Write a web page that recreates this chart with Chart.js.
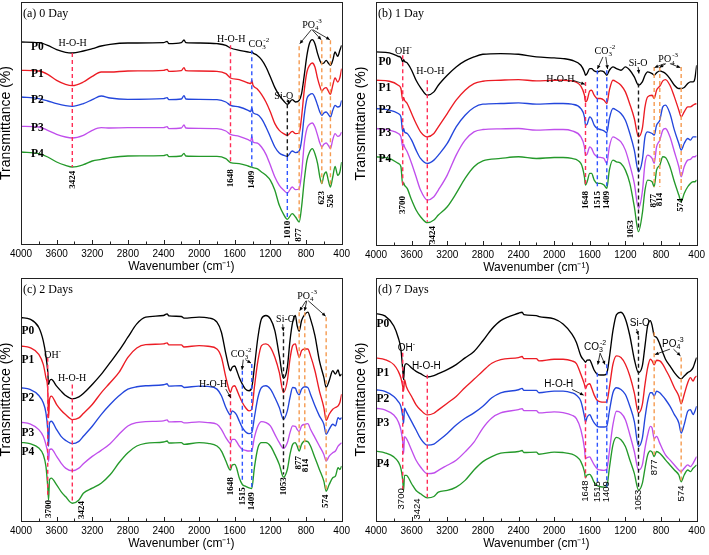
<!DOCTYPE html>
<html>
<head>
<meta charset="utf-8">
<title>FTIR spectra 0-7 days</title>
<script src="https://cdn.jsdelivr.net/npm/chart.js@4.4.1/dist/chart.umd.min.js"></script>
<style>
  body { margin: 0; background: #fff; }
  #wrap { position: relative; width: 709px; height: 555px; overflow: hidden; }
  canvas { position: absolute; }
  #chartA { left: 0; top: 0; }
  #chartB { left: 355px; top: 0; }
  #chartC { left: 0; top: 276px; }
  #chartD { left: 355px; top: 276px; }
</style>
</head>
<body>
<div id="wrap">
  <canvas id="chartA" width="354" height="277"></canvas>
  <canvas id="chartB" width="354" height="277"></canvas>
  <canvas id="chartC" width="354" height="279"></canvas>
  <canvas id="chartD" width="354" height="279"></canvas>
</div>
<script>
// ---- data (transmittance, offset spectra, a.u.) ----
var xTickLabels = [4000, 3600, 3200, 2800, 2400, 2000, 1600, 1200, 800, 400];
var seriesNames = ['P0', 'P1', 'P2', 'P3', 'P4'];
var seriesColors = ['#000000', '#ec1c24', '#2346dc', '#c04fec', '#24992a'];

// (a) 0 Day
var wnA = [4000, 3800, 3700, 3600, 3500, 3424, 3300, 3200, 3100, 3000, 2800, 2400, 2360, 2340, 2200, 2170, 2150, 2000, 1800, 1700,
  1648, 1550, 1450, 1420, 1409, 1395, 1350, 1300, 1250, 1200, 1150, 1100, 1050, 1010, 955, 918, 877, 850, 820, 790,
  760, 730, 700, 670, 645, 623, 600, 574, 550, 526, 500, 474, 444, 420, 400];
var aP0 = [875, 873, 865, 852, 844, 842, 848, 855, 863, 868, 872, 873, 877, 870, 873, 881, 873, 872, 870, 865,
  857, 850, 845, 844, 846, 842, 835, 822, 800, 770, 738, 715, 698, 688, 702, 695, 700, 720, 775, 835,
  872, 882, 870, 840, 820, 810, 812, 820, 812, 805, 820, 845, 832, 850, 865];
var aP1 = [790, 788, 778, 760, 748, 744, 755, 772, 785, 785, 788, 790, 793, 787, 789, 798, 789, 788, 787, 780,
  767, 762, 752, 750, 760, 745, 735, 718, 695, 665, 630, 610, 600, 595, 607, 600, 602, 650, 730, 785,
  805, 812, 800, 765, 742, 728, 735, 738, 728, 718, 745, 767, 755, 768, 795];
var aP2 = [710, 705, 698, 690, 684, 682, 690, 702, 713, 707, 703, 705, 708, 702, 704, 714, 704, 703, 702, 695,
  685, 680, 670, 666, 678, 663, 658, 645, 620, 590, 560, 542, 535, 532, 548, 543, 548, 580, 655, 705,
  717, 720, 708, 685, 665, 655, 662, 665, 658, 650, 670, 685, 680, 682, 700];
var aP3 = [622, 620, 610, 598, 590, 587, 595, 610, 618, 617, 618, 618, 621, 615, 617, 626, 617, 616, 615, 608,
  598, 592, 582, 578, 592, 575, 572, 560, 538, 505, 470, 445, 430, 422, 440, 432, 435, 480, 570, 615,
  628, 632, 620, 595, 572, 560, 568, 572, 565, 555, 582, 600, 592, 595, 605];
var aP4 = [545, 540, 530, 515, 505, 500, 507, 518, 523, 528, 533, 534, 537, 531, 533, 541, 533, 532, 532, 525,
  513, 510, 503, 500, 500, 498, 495, 485, 475, 460, 430, 385, 357, 343, 360, 350, 335, 380, 460, 520,
  545, 555, 540, 510, 470, 450, 475, 485, 460, 440, 470, 502, 475, 485, 515];

// (b) 1 Day
var wnB = [4000, 3850, 3750, 3720, 3700, 3690, 3680, 3650, 3600, 3550, 3500, 3424, 3350, 3300, 3200, 3100, 3000, 2900, 2800, 2600,
  2400, 2200, 2000, 1900, 1800, 1700, 1660, 1648, 1630, 1600, 1580, 1550, 1515, 1480, 1440, 1409, 1380, 1340, 1300, 1250,
  1200, 1150, 1100, 1053, 1010, 980, 950, 900, 877, 850, 814, 780, 750, 700, 650, 600, 574, 540, 500, 470,
  440, 420, 400];
var bP0 = [845, 842, 832, 828, 815, 822, 817, 812, 790, 760, 738, 715, 725, 745, 775, 800, 818, 830, 838, 840,
  838, 830, 827, 825, 820, 805, 785, 775, 780, 795, 795, 788, 785, 788, 785, 775, 790, 800, 795, 790,
  800, 790, 770, 745, 755, 775, 785, 780, 775, 782, 788, 785, 780, 765, 745, 735, 735, 738, 750, 755,
  755, 765, 805];
var bP1 = [760, 757, 745, 735, 700, 708, 700, 690, 660, 630, 605, 590, 600, 620, 660, 700, 730, 750, 757, 760,
  762, 758, 760, 760, 758, 742, 715, 695, 700, 728, 730, 715, 705, 705, 700, 690, 730, 760, 755, 745,
  725, 688, 645, 590, 615, 680, 710, 715, 705, 730, 742, 758, 762, 745, 710, 670, 650, 665, 680, 680,
  685, 688, 690];
var bP2 = [675, 670, 660, 650, 605, 615, 605, 600, 580, 550, 525, 510, 520, 535, 570, 620, 655, 678, 688, 690,
  692, 688, 690, 690, 688, 675, 650, 625, 628, 650, 645, 625, 615, 612, 608, 602, 645, 675, 670, 660,
  640, 600, 550, 485, 520, 590, 605, 600, 595, 625, 640, 680, 685, 660, 610, 570, 550, 570, 585, 580,
  590, 590, 590];
var bP3 = [615, 610, 600, 590, 560, 568, 560, 545, 510, 470, 430, 400, 410, 430, 475, 535, 580, 605, 612, 614,
  615, 610, 612, 612, 608, 590, 560, 535, 538, 560, 555, 538, 530, 528, 525, 510, 560, 590, 585, 575,
  550, 505, 450, 375, 425, 510, 535, 525, 510, 560, 580, 610, 615, 590, 545, 500, 470, 500, 520, 522,
  530, 530, 535];
var bP4 = [530, 525, 510, 500, 445, 452, 445, 435, 400, 370, 350, 332, 340, 355, 380, 420, 465, 500, 518, 525,
  530, 525, 528, 528, 525, 510, 470, 445, 455, 480, 480, 460, 450, 450, 445, 435, 490, 520, 515, 510,
  490, 450, 380, 305, 360, 430, 460, 455, 440, 490, 505, 530, 528, 500, 455, 415, 395, 420, 440, 450,
  455, 455, 460];

// (c) 2 Days and (d) 7 Days share one wavenumber grid
var wnCD = [4000, 3900, 3800, 3750, 3720, 3700, 3690, 3680, 3660, 3600, 3550, 3500, 3424, 3350, 3300, 3200, 3100, 3000, 2900, 2800,
  2700, 2600, 2400, 2360, 2340, 2200, 2170, 2000, 1900, 1800, 1750, 1700, 1660, 1648, 1630, 1600, 1580, 1550, 1515, 1480,
  1440, 1409, 1380, 1340, 1300, 1250, 1200, 1150, 1100, 1053, 1010, 980, 950, 920, 900, 877, 850, 814, 780, 750,
  700, 650, 600, 574, 540, 500, 470, 440, 420, 400];
var cP0 = [870, 865, 840, 800, 755, 710, 670, 680, 685, 665, 650, 637, 627, 633, 643, 670, 700, 735, 771, 811,
  851, 871, 876, 881, 875, 873, 868, 871, 869, 856, 826, 761, 716, 711, 721, 725, 713, 691, 671, 656,
  651, 661, 721, 811, 866, 876, 866, 831, 756, 688, 721, 801, 856, 876, 846, 829, 861, 879, 886, 866,
  816, 741, 691, 661, 681, 711, 701, 713, 696, 701];
var cP1 = [785, 780, 760, 730, 690, 655, 570, 625, 635, 610, 593, 580, 565, 570, 583, 610, 645, 675, 706, 751,
  779, 789, 791, 794, 788, 788, 782, 786, 784, 776, 751, 691, 651, 646, 661, 666, 656, 636, 616, 601,
  591, 596, 661, 741, 786, 791, 781, 751, 706, 646, 681, 746, 786, 791, 771, 751, 771, 776, 776, 756,
  711, 651, 601, 563, 581, 596, 601, 606, 616, 641];
var cP2 = [660, 655, 637, 615, 585, 535, 485, 555, 560, 535, 515, 503, 493, 500, 515, 545, 580, 610, 636, 656,
  663, 666, 669, 672, 665, 666, 661, 665, 664, 656, 636, 601, 581, 579, 591, 586, 579, 561, 541, 529,
  523, 526, 571, 631, 661, 666, 656, 631, 601, 566, 591, 631, 661, 659, 646, 639, 656, 663, 661, 641,
  606, 576, 551, 521, 536, 551, 546, 571, 566, 571];
var cP3 = [557, 552, 535, 515, 490, 465, 440, 475, 477, 455, 435, 420, 412, 420, 433, 455, 473, 493, 521, 546,
  556, 559, 561, 564, 558, 559, 555, 558, 556, 551, 536, 511, 496, 494, 506, 506, 499, 486, 476, 473,
  471, 473, 511, 546, 559, 556, 546, 521, 496, 479, 496, 526, 546, 545, 536, 529, 546, 551, 553, 536,
  511, 486, 461, 441, 456, 466, 471, 486, 491, 496];
var cP4 = [497, 493, 480, 460, 425, 365, 325, 385, 390, 370, 350, 335, 315, 325, 345, 360, 375, 400, 436, 466,
  486, 494, 498, 501, 495, 496, 491, 496, 494, 486, 471, 441, 416, 414, 429, 431, 421, 391, 371, 366,
  361, 359, 421, 481, 496, 496, 486, 461, 431, 393, 416, 461, 491, 496, 486, 471, 491, 501, 499, 486,
  451, 416, 381, 351, 371, 391, 396, 421, 416, 426];
var dP0 = [882, 875, 845, 810, 775, 715, 685, 725, 733, 720, 710, 703, 693, 697, 703, 715, 730, 750, 769, 801,
  836, 861, 883, 886, 879, 876, 873, 866, 851, 821, 796, 756, 741, 737, 743, 744, 733, 713, 701, 699,
  699, 704, 751, 831, 879, 886, 866, 816, 746, 706, 726, 786, 846, 861, 846, 816, 811, 791, 766, 746,
  726, 706, 691, 688, 696, 706, 711, 721, 736, 751];
var dP1 = [750, 745, 730, 710, 690, 665, 650, 685, 665, 635, 610, 595, 580, 585, 595, 615, 635, 662, 686, 711,
  734, 745, 751, 754, 748, 748, 741, 746, 746, 741, 733, 701, 671, 659, 669, 673, 661, 639, 623, 619,
  618, 619, 661, 731, 756, 751, 731, 696, 646, 586, 611, 671, 721, 746, 741, 729, 743, 741, 731, 716,
  691, 661, 636, 613, 641, 676, 691, 681, 691, 696];
var dP2 = [655, 650, 635, 620, 605, 575, 555, 600, 590, 560, 535, 510, 490, 493, 503, 525, 550, 570, 586, 606,
  631, 646, 655, 659, 653, 653, 646, 651, 651, 646, 639, 621, 576, 559, 573, 581, 571, 556, 546, 544,
  544, 546, 591, 646, 661, 656, 641, 606, 561, 486, 511, 571, 621, 646, 646, 636, 651, 646, 636, 626,
  606, 581, 556, 526, 551, 591, 596, 581, 591, 606];
var dP3 = [600, 595, 580, 560, 535, 500, 465, 515, 510, 475, 445, 425, 405, 407, 415, 430, 445, 470, 499, 541,
  571, 586, 596, 599, 593, 593, 586, 589, 587, 579, 569, 536, 481, 450, 453, 455, 446, 431, 419, 416,
  415, 418, 471, 551, 591, 586, 566, 521, 471, 416, 431, 481, 521, 546, 541, 509, 516, 496, 476, 461,
  446, 431, 416, 411, 421, 431, 426, 436, 446, 456];
var dP4 = [472, 467, 455, 440, 420, 385, 355, 400, 400, 375, 355, 345, 333, 337, 350, 355, 365, 385, 416, 441,
  456, 466, 471, 474, 468, 469, 463, 469, 468, 463, 456, 441, 411, 393, 401, 403, 396, 379, 369, 366,
  365, 367, 421, 491, 513, 506, 486, 446, 406, 356, 376, 421, 461, 473, 469, 456, 471, 466, 456, 446,
  431, 416, 401, 381, 401, 416, 411, 421, 426, 431];

// ---- look ----
var serif = '"Liberation Serif", "DejaVu Serif", serif';
var sans = '"Liberation Sans", Arial, sans-serif';
var guideColors = { red: '#ff2d55', blue: '#2f55ff', black: '#1a1a1a', orange: '#f59a50' };

// band assignments: [wavenumber, from, to, colour]
var panels = [
  {
    canvas: 'chartA', wn: wnA, series: [aP0, aP1, aP2, aP3, aP4],
    yMin: 269, yMax: 995, padRight: 9, xHeight: 33,
    heading: '(a) 0 Day', labelX: 3815, labelY: [860, 780, 702, 617, 538],
    family: serif, numFont: 'bold 9px ' + serif,
    guides: [[3424, 842, 500, 'red'], [1648, 865, 510, 'red'], [1409, 850, 495, 'blue'],
      [1010, 688, 530, 'black'], [1010, 530, 345, 'blue'], [877, 862, 340, 'orange'],
      [623, 880, 450, 'orange'], [526, 880, 440, 'orange']],
    notes: [['H-O-H', 3420, 870], ['H-O-H', 1640, 882], ['CO_3^-2', 1330, 868], ['Si-O', 1050, 712], ['PO_4^-3', 733, 926]],
    numbers: [['3424', 3424, 462], ['1648', 1648, 466], ['1409', 1409, 462], ['1010', 1010, 312],
      ['877', 877, 296], ['623', 623, 408], ['526', 526, 398]],
    arrows: [[740, 912, 870, 870], [733, 912, 630, 882], [725, 912, 533, 882], [1010, 703, 990, 690]]
  },
  {
    canvas: 'chartB', wn: wnB, series: [bP0, bP1, bP2, bP3, bP4],
    yMin: 265, yMax: 995, padRight: 10, xHeight: 32,
    heading: '(b) 1 Day', labelX: 3900, labelY: [815, 738, 670, 600, 522],
    family: serif, numFont: 'bold 9px ' + serif,
    guides: [[3700, 835, 440, 'red'], [3424, 760, 335, 'red'], [1648, 755, 440, 'red'],
      [1515, 790, 440, 'blue'], [1409, 790, 440, 'blue'], [1053, 750, 310, 'black'],
      [877, 800, 440, 'orange'], [814, 800, 440, 'orange'], [574, 800, 420, 'orange']],
    notes: [['OH^-', 3692, 846], ['H-O-H', 3390, 786], ['H-O-H', 1930, 763], ['CO_3^-2', 1430, 847],
      ['Si-O', 1057, 811], ['PO_4^-3', 720, 822]],
    numbers: [['3700', 3705, 385], ['3424', 3360, 295], ['1648', 1648, 400], ['1515', 1515, 400],
      ['1409', 1409, 400], ['1053', 1145, 312], ['877', 877, 398], ['814', 814, 402], ['574', 574, 385]],
    arrows: [[1790, 760, 1656, 748], [1452, 830, 1514, 794], [1420, 830, 1400, 794], [1057, 800, 1048, 780],
      [760, 810, 872, 798], [745, 810, 816, 798], [700, 810, 584, 798]]
  },
  {
    canvas: 'chartC', wn: wnCD, series: [cP0, cP1, cP2, cP3, cP4],
    yMin: 262, yMax: 988, padRight: 9, xHeight: 34,
    heading: '(c) 2 Days', labelX: 3922, labelY: [830, 743, 630, 525, 468],
    family: serif, numFont: 'bold 9px ' + serif,
    guides: [[3700, 750, 335, 'red'], [3424, 670, 315, 'red'], [1648, 641, 411, 'red'],
      [1515, 711, 376, 'blue'], [1409, 731, 356, 'blue'], [1053, 826, 401, 'black'],
      [877, 886, 481, 'orange'], [814, 886, 476, 'orange'], [574, 871, 356, 'orange']],
    notes: [['OH^-', 3645, 756], ['H-O-H', 3427, 688], ['H-O-H', 1843, 670], ['CO_3^-2', 1528, 760],
      ['Si-O', 1030, 864], ['PO_4^-3', 788, 934]],
    numbers: [['3700', 3693, 298], ['3424', 3323, 295], ['1648', 1648, 366], ['1515', 1515, 336],
      ['1409', 1409, 321], ['1053', 1053, 366], ['877', 885, 436], ['814', 806, 428], ['574', 574, 321]],
    arrows: [[1700, 656, 1645, 630], [1505, 744, 1518, 714], [1480, 744, 1418, 734], [1062, 850, 1055, 830],
      [800, 920, 872, 890], [792, 920, 816, 890], [775, 920, 580, 874]]
  },
  {
    canvas: 'chartD', wn: wnCD, series: [dP0, dP1, dP2, dP3, dP4],
    yMin: 264, yMax: 988, padRight: 10, xHeight: 34,
    heading: '(d) 7 Days', labelX: 3922, labelY: [850, 706, 626, 557, 435],
    family: sans, numFont: '9.5px ' + sans,
    guides: [[3700, 765, 355, 'red'], [3424, 700, 335, 'red'], [1648, 731, 391, 'red'],
      [1515, 706, 371, 'blue'], [1409, 731, 366, 'blue'], [1053, 816, 361, 'black'],
      [877, 826, 461, 'orange'], [574, 751, 381, 'orange']],
    notes: [['OH^-', 3658, 778], ['H-O-H', 3435, 726], ['H-O-H', 1948, 670], ['CO_3^-2', 1540, 782],
      ['Si-O', 1039, 852], ['PO_4^-3', 667, 792]],
    numbers: [['3700', 3718, 330], ['3424', 3540, 300], ['1648', 1648, 353], ['1515', 1515, 351],
      ['1409', 1409, 351], ['1053', 1053, 326], ['877', 877, 424], ['574', 574, 346]],
    arrows: [[1799, 656, 1669, 639], [1484, 764, 1510, 730], [1484, 764, 1429, 730], [1075, 836, 1055, 818],
      [700, 776, 868, 760], [660, 776, 582, 756]]
  }
];

// text such as CO_3^-2 : "_" starts a subscript, "^" a superscript stacked over it
function richLayout(ctx, text, size, family) {
  var runs = [], x = 0, subX = null;
  text.split(/(?=[_^])/).forEach(function (part) {
    var kind = part[0] === '_' ? 'sub' : (part[0] === '^' ? 'sup' : 'base');
    var str = kind === 'base' ? part : part.slice(1);
    var font = (kind === 'base' ? size : size * 0.7) + 'px ' + family;
    ctx.font = font;
    var w = ctx.measureText(str).width;
    if (kind === 'sup' && subX !== null) {
      runs.push({ str: str, x: subX + 1, dy: -size * 0.4, font: font });
      x = Math.max(x, subX + 1 + w);
      subX = null;
    } else {
      runs.push({ str: str, x: x, dy: kind === 'sub' ? size * 0.32 : (kind === 'sup' ? -size * 0.4 : 0), font: font });
      subX = kind === 'sub' ? x : null;
      x += w;
    }
  });
  return { runs: runs, width: x };
}

function drawArrow(ctx, x1, y1, x2, y2) {
  var a = Math.atan2(y2 - y1, x2 - x1), h = 4;
  ctx.beginPath();
  ctx.moveTo(x1, y1);
  ctx.lineTo(x2, y2);
  ctx.stroke();
  ctx.beginPath();
  ctx.moveTo(x2, y2);
  ctx.lineTo(x2 - h * Math.cos(a - 0.45), y2 - h * Math.sin(a - 0.45));
  ctx.lineTo(x2 - h * Math.cos(a + 0.45), y2 - h * Math.sin(a + 0.45));
  ctx.closePath();
  ctx.fill();
}

function markPlugin(p) {
  return {
    id: 'marks',
    afterDatasetsDraw: function (chart) {
      var ctx = chart.ctx, xs = chart.scales.x, ys = chart.scales.y, area = chart.chartArea;
      ctx.save();
      // dashed band lines
      ctx.lineWidth = 1.4;
      ctx.setLineDash([4, 3]);
      p.guides.forEach(function (g) {
        var x = xs.getPixelForValue(g[0]);
        ctx.strokeStyle = guideColors[g[3]];
        ctx.beginPath();
        ctx.moveTo(x, ys.getPixelForValue(g[1]));
        ctx.lineTo(x, ys.getPixelForValue(g[2]));
        ctx.stroke();
      });
      ctx.setLineDash([]);

      ctx.fillStyle = '#000';
      ctx.strokeStyle = '#000';
      ctx.lineWidth = 0.8;
      p.arrows.forEach(function (a) {
        drawArrow(ctx, xs.getPixelForValue(a[0]), ys.getPixelForValue(a[1]),
          xs.getPixelForValue(a[2]), ys.getPixelForValue(a[3]));
      });

      ctx.textBaseline = 'middle';
      ctx.textAlign = 'left';
      p.notes.forEach(function (n) {
        var lay = richLayout(ctx, n[0], 10, p.family);
        var x0 = xs.getPixelForValue(n[1]) - lay.width / 2, y0 = ys.getPixelForValue(n[2]);
        lay.runs.forEach(function (r) {
          ctx.font = r.font;
          ctx.fillText(r.str, x0 + r.x, y0 + r.dy);
        });
      });

      ctx.textAlign = 'center';
      ctx.font = p.numFont;
      p.numbers.forEach(function (n) {
        ctx.save();
        ctx.translate(xs.getPixelForValue(n[1]), ys.getPixelForValue(n[2]));
        ctx.rotate(-Math.PI / 2);
        ctx.fillText(n[0], 0, 0);
        ctx.restore();
      });

      ctx.font = 'bold 11.5px ' + serif;
      seriesNames.forEach(function (name, k) {
        ctx.fillText(name, xs.getPixelForValue(p.labelX), ys.getPixelForValue(p.labelY[k]));
      });

      ctx.textAlign = 'left';
      ctx.font = '12px ' + serif;
      ctx.fillText(p.heading, area.left + 2, area.top + 12);

      // frame and inward ticks on the wavenumber axis
      ctx.strokeStyle = '#222';
      ctx.lineWidth = 1;
      ctx.strokeRect(Math.round(area.left) + 0.5, Math.round(area.top) + 0.5,
        Math.round(area.right - area.left), Math.round(area.bottom - area.top));
      ctx.beginPath();
      for (var w = 400; w <= 4000; w += 200) {
        var tx = Math.round(xs.getPixelForValue(w)) + 0.5;
        ctx.moveTo(tx, area.bottom);
        ctx.lineTo(tx, area.bottom - (w % 400 === 0 ? 4 : 2.5));
      }
      ctx.stroke();
      ctx.restore();
    }
  };
}

function makeChart(p) {
  var datasets = p.series.map(function (vals, k) {
    return {
      label: seriesNames[k],
      data: p.wn.map(function (w, i) { return { x: w, y: vals[i] }; }),
      borderColor: seriesColors[k],
      borderWidth: 1.35,
      pointRadius: 0,
      fill: false,
      cubicInterpolationMode: 'monotone'
    };
  });
  return new Chart(document.getElementById(p.canvas), {
    type: 'line',
    data: { datasets: datasets },
    options: {
      responsive: false,
      animation: false,
      layout: { padding: { top: 2, right: p.padRight, left: 0, bottom: 0 } },
      plugins: { legend: { display: false }, tooltip: { enabled: false } },
      scales: {
        x: {
          type: 'linear', reverse: true, min: 400, max: 4000,
          afterBuildTicks: function (s) { s.ticks = xTickLabels.map(function (v) { return { value: v }; }); },
          afterFit: function (s) { s.height = p.xHeight; },
          grid: { display: false, drawTicks: false },
          border: { display: false },
          ticks: {
            color: '#000', padding: 4, maxRotation: 0, autoSkip: false,
            font: { family: sans, size: 10 },
            callback: function (v) { return String(v); }
          },
          title: {
            display: true, text: 'Wavenumber (cm\u207B\u00B9)', color: '#000',
            font: { family: sans, size: 12 }, padding: { top: 0, bottom: p.xHeight - 30 }
          }
        },
        y: {
          min: p.yMin, max: p.yMax,
          afterFit: function (s) { s.width = 21; },
          ticks: { display: false },
          grid: { display: false, drawTicks: false },
          border: { display: false },
          title: {
            display: true, text: 'Transmittance (%)', color: '#000',
            font: { family: sans, size: 14, lineHeight: 0.9 }, padding: 0
          }
        }
      }
    },
    plugins: [markPlugin(p)]
  });
}

document.addEventListener('DOMContentLoaded', function () {
  panels.forEach(makeChart);
});
</script>
</body>
</html>
